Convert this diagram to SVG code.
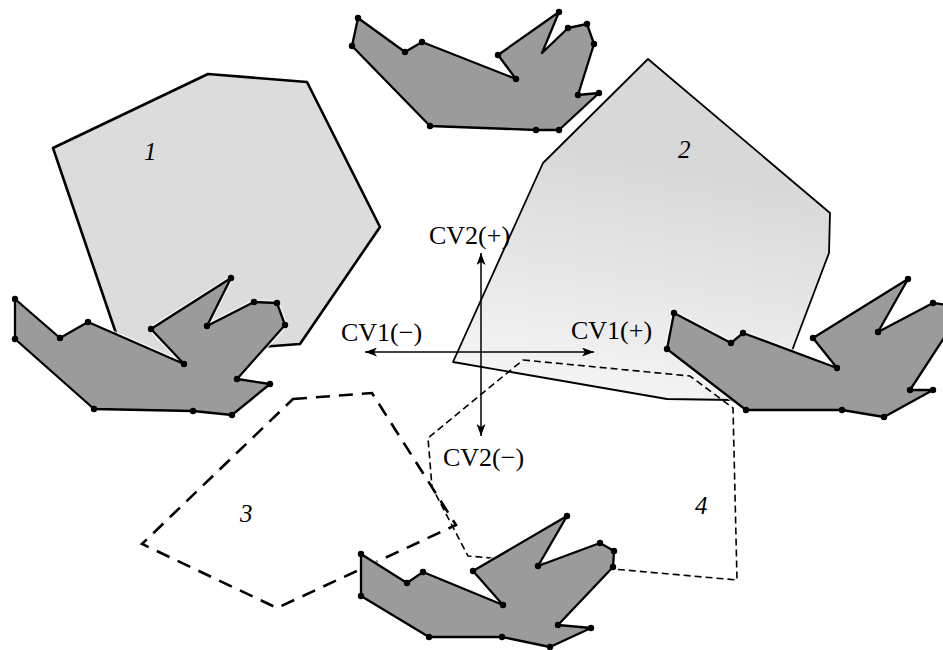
<svg xmlns="http://www.w3.org/2000/svg" width="943" height="650" viewBox="0 0 943 650">
  <defs>
    <linearGradient id="fade2" x1="0.6" y1="0" x2="0.4" y2="1">
      <stop offset="0.3" stop-color="#d8d8d8"/>
      <stop offset="1" stop-color="#f5f5f5"/>
    </linearGradient>
    <marker id="arrow" viewBox="0 0 12 9" refX="12" refY="4.5" markerWidth="12" markerHeight="9" markerUnits="userSpaceOnUse" orient="auto">
      <path d="M0,0 L12,4.5 L0,9 L3,4.5 Z" fill="#000"/>
    </marker>
  </defs>
  <style>
    .hull1 { fill: #dcdcdc; stroke: #000; stroke-width: 2.6; stroke-linejoin: round; }
    .hull2 { fill: url(#fade2); stroke: #000; stroke-width: 1.8; stroke-linejoin: round; }
    .hull3 { fill: none; stroke: #000; stroke-width: 2.6; stroke-dasharray: 14 9; }
    .hull4 { fill: none; stroke: #000; stroke-width: 1.6; stroke-dasharray: 7 4; }
    .axis { stroke: #000; stroke-width: 1.5; fill: none; marker-end: url(#arrow); }
    .bird { fill: #9b9b9b; stroke: #000; stroke-width: 2.3; stroke-linejoin: round; }
    .halo { fill: none; stroke: #fff; stroke-width: 5; stroke-linejoin: round; opacity: 0.7; }
    .pt { fill: #000; }
    .lbl { font-family: "Liberation Serif", "Times New Roman", serif; font-size: 26px; fill: #000; }
    .num { font-family: "Liberation Serif", "Times New Roman", serif; font-size: 25px; font-style: italic; fill: #000; }
  </style>
  <rect width="943" height="650" fill="#fff"/>

  <!-- regions -->
  <g id="region1">
    <polygon class="hull1" points="53,148 208,74 307,82 380,227 300,344 260,347 190,372 120,345"/>
    <text class="num" x="144" y="160">1</text>
  </g>
  <g id="region2">
    <polygon class="hull2" points="648,59 830,213 829,253 793,348 780,385 733,400 667,399 453,362 543,163"/>
    <text class="num" x="678" y="158">2</text>
  </g>
  <g id="region3">
    <polygon class="hull3" points="293,399 372,393 456,525 277,608 142,544"/>
    <text class="num" x="240" y="522">3</text>
  </g>
  <g id="region4">
    <polygon class="hull4" points="523,360 690,376 733,408 737,580 613,569 468,556 432,487 428,438"/>
    <text class="num" x="695" y="514">4</text>
  </g>

  <!-- axes -->
  <g id="connectors">
    <line class="axis" x1="480" y1="352" x2="365" y2="352"/>
    <line class="axis" x1="480" y1="352" x2="594" y2="352"/>
    <line class="axis" x1="481" y1="352" x2="481" y2="253"/>
    <line class="axis" x1="481" y1="352" x2="481" y2="436"/>
  </g>

  <!-- molecules -->
  <g id="molecule-top">
    <polygon class="halo" points="358,18 405,52 422,42 516,79 498,55 559,12 542,53 568,28 587,24 594,44 578,95 599,93 559,130 536,130 430,126 352,46"/>
    <polygon class="bird" points="358,18 405,52 422,42 516,79 498,55 559,12 542,53 568,28 587,24 594,44 578,95 599,93 559,130 536,130 430,126 352,46"/>
    <g class="pt">
      <circle cx="358" cy="18" r="3.2"/><circle cx="405" cy="52" r="3.2"/><circle cx="422" cy="42" r="3.2"/>
      <circle cx="516" cy="79" r="3.2"/><circle cx="498" cy="55" r="3.2"/><circle cx="559" cy="12" r="3.2"/>
      <circle cx="568" cy="28" r="3.2"/><circle cx="587" cy="24" r="3.2"/><circle cx="594" cy="44" r="3.2"/>
      <circle cx="578" cy="95" r="3.2"/><circle cx="599" cy="93" r="3.2"/><circle cx="559" cy="130" r="3.2"/>
      <circle cx="536" cy="130" r="3.2"/><circle cx="430" cy="126" r="3.2"/><circle cx="352" cy="46" r="3.2"/>
    </g>
  </g>
  <g id="molecule-left">
    <polygon class="halo" points="15,299 60,338 88,322 184,364 151,329 231,278 207,326 254,302 277,303 285,325 237,379 270,384 232,415 193,411 94,409 15,339"/>
    <polygon class="bird" points="15,299 60,338 88,322 184,364 151,329 231,278 207,326 254,302 277,303 285,325 237,379 270,384 232,415 193,411 94,409 15,339"/>
    <g class="pt">
      <circle cx="15" cy="299" r="3.2"/><circle cx="60" cy="338" r="3.2"/><circle cx="88" cy="322" r="3.2"/>
      <circle cx="184" cy="364" r="3.2"/><circle cx="151" cy="329" r="3.2"/><circle cx="231" cy="278" r="3.2"/>
      <circle cx="207" cy="326" r="3.2"/><circle cx="254" cy="302" r="3.2"/><circle cx="277" cy="303" r="3.2"/>
      <circle cx="285" cy="325" r="3.2"/><circle cx="237" cy="379" r="3.2"/><circle cx="270" cy="384" r="3.2"/>
      <circle cx="232" cy="415" r="3.2"/><circle cx="193" cy="411" r="3.2"/><circle cx="94" cy="409" r="3.2"/>
      <circle cx="15" cy="339" r="3.2"/>
    </g>
  </g>
  <g id="molecule-right">
    <polygon class="halo" points="674,313 731,343 743,333 837,368 813,338 908,279 878,332 933,303 956,306 957,318 910,390 933,390 884,417 842,410 746,410 667,349"/>
    <polygon class="bird" points="674,313 731,343 743,333 837,368 813,338 908,279 878,332 933,303 956,306 957,318 910,390 933,390 884,417 842,410 746,410 667,349"/>
    <g class="pt">
      <circle cx="674" cy="313" r="3.2"/><circle cx="731" cy="343" r="3.2"/><circle cx="743" cy="333" r="3.2"/>
      <circle cx="837" cy="368" r="3.2"/><circle cx="813" cy="338" r="3.2"/><circle cx="908" cy="279" r="3.2"/>
      <circle cx="878" cy="332" r="3.2"/><circle cx="933" cy="303" r="3.2"/><circle cx="910" cy="390" r="3.2"/>
      <circle cx="933" cy="390" r="3.2"/><circle cx="884" cy="417" r="3.2"/><circle cx="842" cy="410" r="3.2"/>
      <circle cx="746" cy="410" r="3.2"/><circle cx="667" cy="349" r="3.2"/>
    </g>
  </g>
  <g id="molecule-bottom">
    <polygon class="halo" points="361,554 407,583 423,572 503,605 473,571 567,516 538,566 600,543 614,551 613,567 558,625 591,628 550,647 502,637 429,637 361,596"/>
    <polygon class="bird" points="361,554 407,583 423,572 503,605 473,571 567,516 538,566 600,543 614,551 613,567 558,625 591,628 550,647 502,637 429,637 361,596"/>
    <g class="pt">
      <circle cx="361" cy="554" r="3.2"/><circle cx="407" cy="583" r="3.2"/><circle cx="423" cy="572" r="3.2"/>
      <circle cx="503" cy="605" r="3.2"/><circle cx="473" cy="571" r="3.2"/><circle cx="567" cy="516" r="3.2"/>
      <circle cx="538" cy="566" r="3.2"/><circle cx="600" cy="543" r="3.2"/><circle cx="614" cy="551" r="3.2"/>
      <circle cx="613" cy="567" r="3.2"/><circle cx="558" cy="625" r="3.2"/><circle cx="591" cy="628" r="3.2"/>
      <circle cx="550" cy="647" r="3.2"/><circle cx="502" cy="637" r="3.2"/><circle cx="429" cy="637" r="3.2"/>
      <circle cx="361" cy="596" r="3.2"/>
    </g>
  </g>

  <!-- axis labels -->
  <g id="labels">
    <text class="lbl" x="429" y="244">CV2(+)</text>
    <text class="lbl" x="341" y="341">CV1(−)</text>
    <text class="lbl" x="571" y="339">CV1(+)</text>
    <text class="lbl" x="443" y="466">CV2(−)</text>
  </g>
</svg>
